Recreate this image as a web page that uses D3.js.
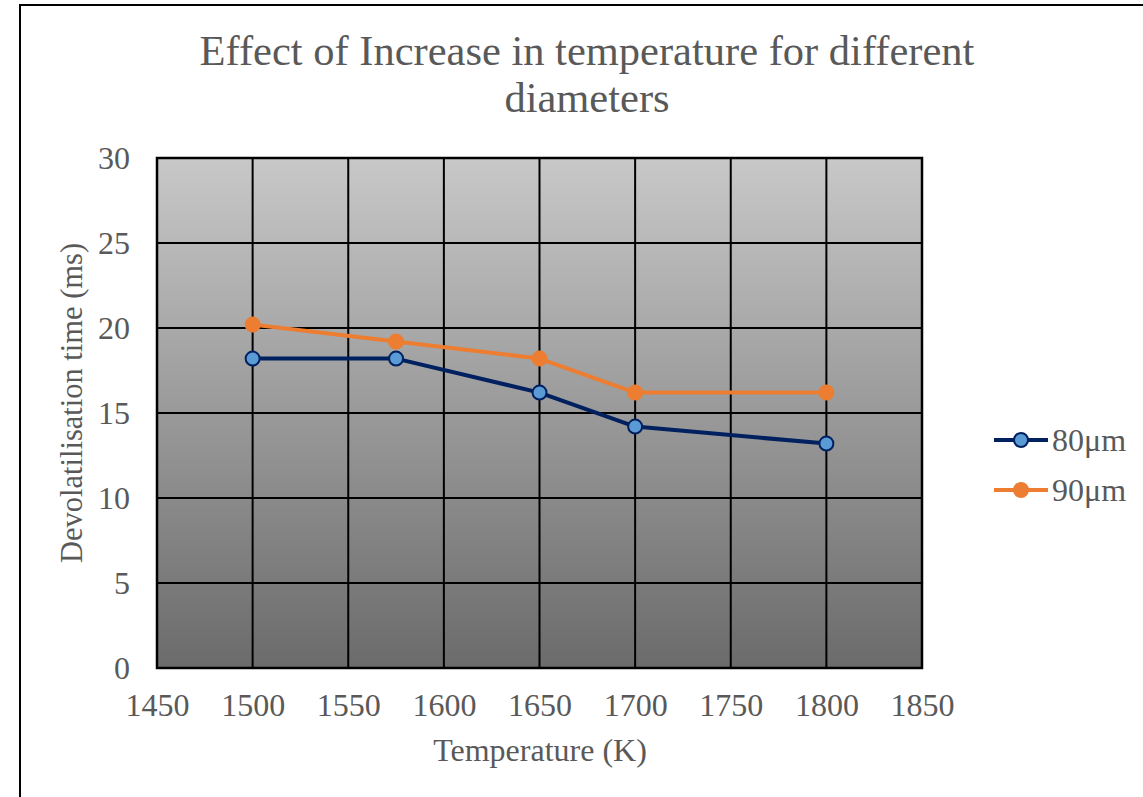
<!DOCTYPE html>
<html>
<head>
<meta charset="utf-8">
<script src="https://cdn.jsdelivr.net/npm/d3@7"></script>
<style>
  body { margin: 0; background: #fff; }
  svg { display: block; }
  svg text { font-family: "Liberation Serif", "Times New Roman", Times, serif; }
</style>
</head>
<body>
<svg id="chart" width="1143" height="797"></svg>
<script>
const temps = [1500, 1575, 1650, 1700, 1800];
const time80 = [18.2, 18.2, 16.2, 14.2, 13.2];
const time90 = [20.2, 19.2, 18.2, 16.2, 16.2];
const seriesNames = ['80\u03bcm', '90\u03bcm'];
const xTicks = [1450, 1500, 1550, 1600, 1650, 1700, 1750, 1800, 1850];
const yTicks = [0, 5, 10, 15, 20, 25, 30];

const textColor = '#595959';
const navy = '#002060';
const lightBlue = '#5b9bd5';
const orange = '#ed7d31';

const svg = d3.select('#chart');
const plot = { left: 157, top: 158, right: 922, bottom: 668 };

const x = d3.scaleLinear().domain([1450, 1850]).range([plot.left, plot.right]);
const y = d3.scaleLinear().domain([0, 30]).range([plot.bottom, plot.top]);

// outer chart border
svg.append('rect')
  .attr('x', 20).attr('y', 5)
  .attr('width', 1200).attr('height', 900)
  .attr('fill', 'none').attr('stroke', '#000').attr('stroke-width', 2);

// background gradient
const grad = svg.append('defs').append('linearGradient')
  .attr('id', 'bg').attr('x1', 0).attr('y1', 0).attr('x2', 0).attr('y2', 1);
grad.append('stop').attr('offset', '0%').attr('stop-color', '#c8c8c8');
grad.append('stop').attr('offset', '100%').attr('stop-color', '#6b6b6b');

svg.append('rect')
  .attr('x', plot.left).attr('y', plot.top)
  .attr('width', plot.right - plot.left).attr('height', plot.bottom - plot.top)
  .attr('fill', 'url(#bg)');

// grid
const gGrid = svg.append('g');
gGrid.selectAll('line.v').data(xTicks).join('line')
  .attr('x1', d => x(d)).attr('x2', d => x(d))
  .attr('y1', plot.top).attr('y2', plot.bottom)
  .attr('stroke', '#000').attr('stroke-width', 2);
gGrid.selectAll('line.h').data(yTicks).join('line')
  .attr('class', 'h')
  .attr('x1', plot.left).attr('x2', plot.right)
  .attr('y1', d => y(d)).attr('y2', d => y(d))
  .attr('stroke', '#000').attr('stroke-width', 2);
svg.append('rect')
  .attr('x', plot.left).attr('y', plot.top)
  .attr('width', plot.right - plot.left).attr('height', plot.bottom - plot.top)
  .attr('fill', 'none').attr('stroke', '#000').attr('stroke-width', 2.5);

// tick labels
const xAxis = svg.append('g')
  .attr('transform', `translate(0,${plot.bottom})`)
  .call(d3.axisBottom(x).tickValues(xTicks).tickSize(0).tickPadding(26).tickFormat(d3.format('d')));
const yAxis = svg.append('g')
  .attr('transform', `translate(${plot.left},0)`)
  .call(d3.axisLeft(y).tickValues(yTicks).tickSize(0).tickPadding(27));
[xAxis, yAxis].forEach(a => {
  a.attr('font-family', null);
  a.select('.domain').remove();
  a.selectAll('text')
    .attr('font-size', 32).attr('fill', textColor);
});
xAxis.selectAll('text').attr('dy', '0.7em');

// title
const title = svg.append('text')
  .attr('text-anchor', 'middle').attr('fill', textColor)
  .attr('font-size', 42.5);
title.append('tspan').attr('x', 587).attr('y', 65).text('Effect of Increase in temperature for different');
title.append('tspan').attr('x', 587).attr('y', 112).text('diameters');

// axis titles
svg.append('text')
  .attr('x', 540).attr('y', 761)
  .attr('text-anchor', 'middle').attr('fill', textColor).attr('font-size', 32)
  .text('Temperature (K)');
svg.append('text')
  .attr('transform', `translate(82,${403}) rotate(-90)`)
  .attr('text-anchor', 'middle').attr('fill', textColor).attr('font-size', 30.5)
  .text('Devolatilisation time (ms)');

// series
const series = [
  { name: seriesNames[0], values: time80, stroke: navy, fill: lightBlue },
  { name: seriesNames[1], values: time90, stroke: orange, fill: orange }
];
const line = d3.line().x(d => x(d[0])).y(d => y(d[1]));

series.forEach(s => {
  const pts = temps.map((t, i) => [t, s.values[i]]);
  svg.append('path')
    .datum(pts)
    .attr('d', line)
    .attr('fill', 'none').attr('stroke', s.stroke).attr('stroke-width', 4)
    .attr('stroke-linejoin', 'round');
  svg.append('g').selectAll('circle').data(pts).join('circle')
    .attr('cx', d => x(d[0])).attr('cy', d => y(d[1]))
    .attr('r', 7)
    .attr('fill', s.fill).attr('stroke', s.stroke).attr('stroke-width', 2);
});

// legend
const legend = svg.append('g');
series.forEach((s, i) => {
  const ly = 440 + i * 50;
  const g = legend.append('g').attr('transform', `translate(994,${ly})`);
  g.append('line').attr('x1', 0).attr('x2', 54).attr('y1', 0).attr('y2', 0)
    .attr('stroke', s.stroke).attr('stroke-width', 4);
  g.append('circle').attr('cx', 27).attr('cy', 0).attr('r', 7)
    .attr('fill', s.fill).attr('stroke', s.stroke).attr('stroke-width', 2);
  g.append('text').attr('x', 58).attr('y', 0).attr('dy', '0.35em')
    .attr('fill', textColor).attr('font-size', 32).text(s.name);
});
</script>
</body>
</html>
